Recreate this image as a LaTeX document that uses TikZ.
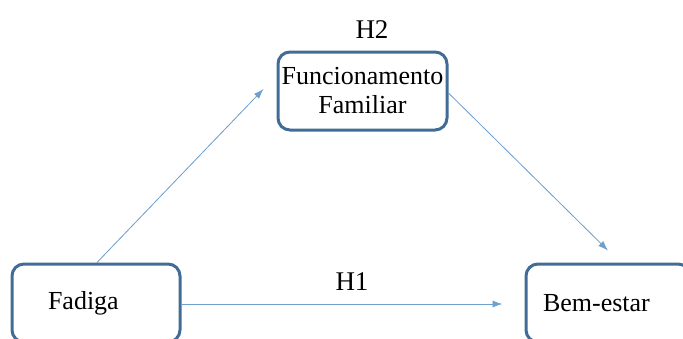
\documentclass[tikz,border=0pt]{standalone}
\usepackage{fontspec}
\setmainfont{Liberation Serif}
\newfontfamily\diagfont{Liberation Serif}
\usetikzlibrary{arrows.meta}
\definecolor{boxblue}{RGB}{66,108,150}
\definecolor{arrowblue}{RGB}{110,160,205}

\begin{document}
\begin{tikzpicture}[x=1pt, y=-1pt, >={Latex[length=10pt, width=7pt]}]

        % Styles
        \tikzset{
            varbox/.style={draw=boxblue, line width=3pt, rounded corners=12pt, fill=white, minimum height=78pt, font=\diagfont\fontsize{26}{29}\selectfont},
            label/.style={font=\diagfont\fontsize{27}{30}\selectfont, inner sep=0pt},
            arrow/.style={->, line width=0.8pt, draw=arrowblue, fill=arrowblue}
        }

        \useasboundingbox (0,0) rectangle (683,338);
        \clip (0,0) rectangle (683,338);

        % --- VARIABLES ---
        \node[varbox, align=center, inner sep=2pt, minimum width=169pt] (fam) at (362.5, 91) {Funcionamento\\Familiar};
        \node[varbox, align=left, inner xsep=36pt, text width=96pt] (fad) at (96, 303) {Fadiga};
        \node[varbox, align=left, inner xsep=17pt, text width=130pt] (bem) at (608, 303) {Bem-estar};

        % --- HIPOTESES ---
        \node[label] (h2) at (372, 30) {H2};
        \node[label] (h1) at (352, 282) {H1};

        % --- CONEXOES ---
        \coordinate (famin) at ([xshift=-13pt, yshift=2pt]fam.west);
        \coordinate (bemin) at ([yshift=12pt]bem.north);
        \coordinate (fadout) at ([xshift=1pt]fad.north);
        \draw[arrow] (fadout) -- (famin);
        \draw[arrow] ([yshift=-2pt]fam.east) -- (bemin);
        \draw[arrow] ([yshift=-1pt]fad.east) -- ([xshift=-22pt, yshift=-1pt]bem.west);

\end{tikzpicture}
\end{document}
